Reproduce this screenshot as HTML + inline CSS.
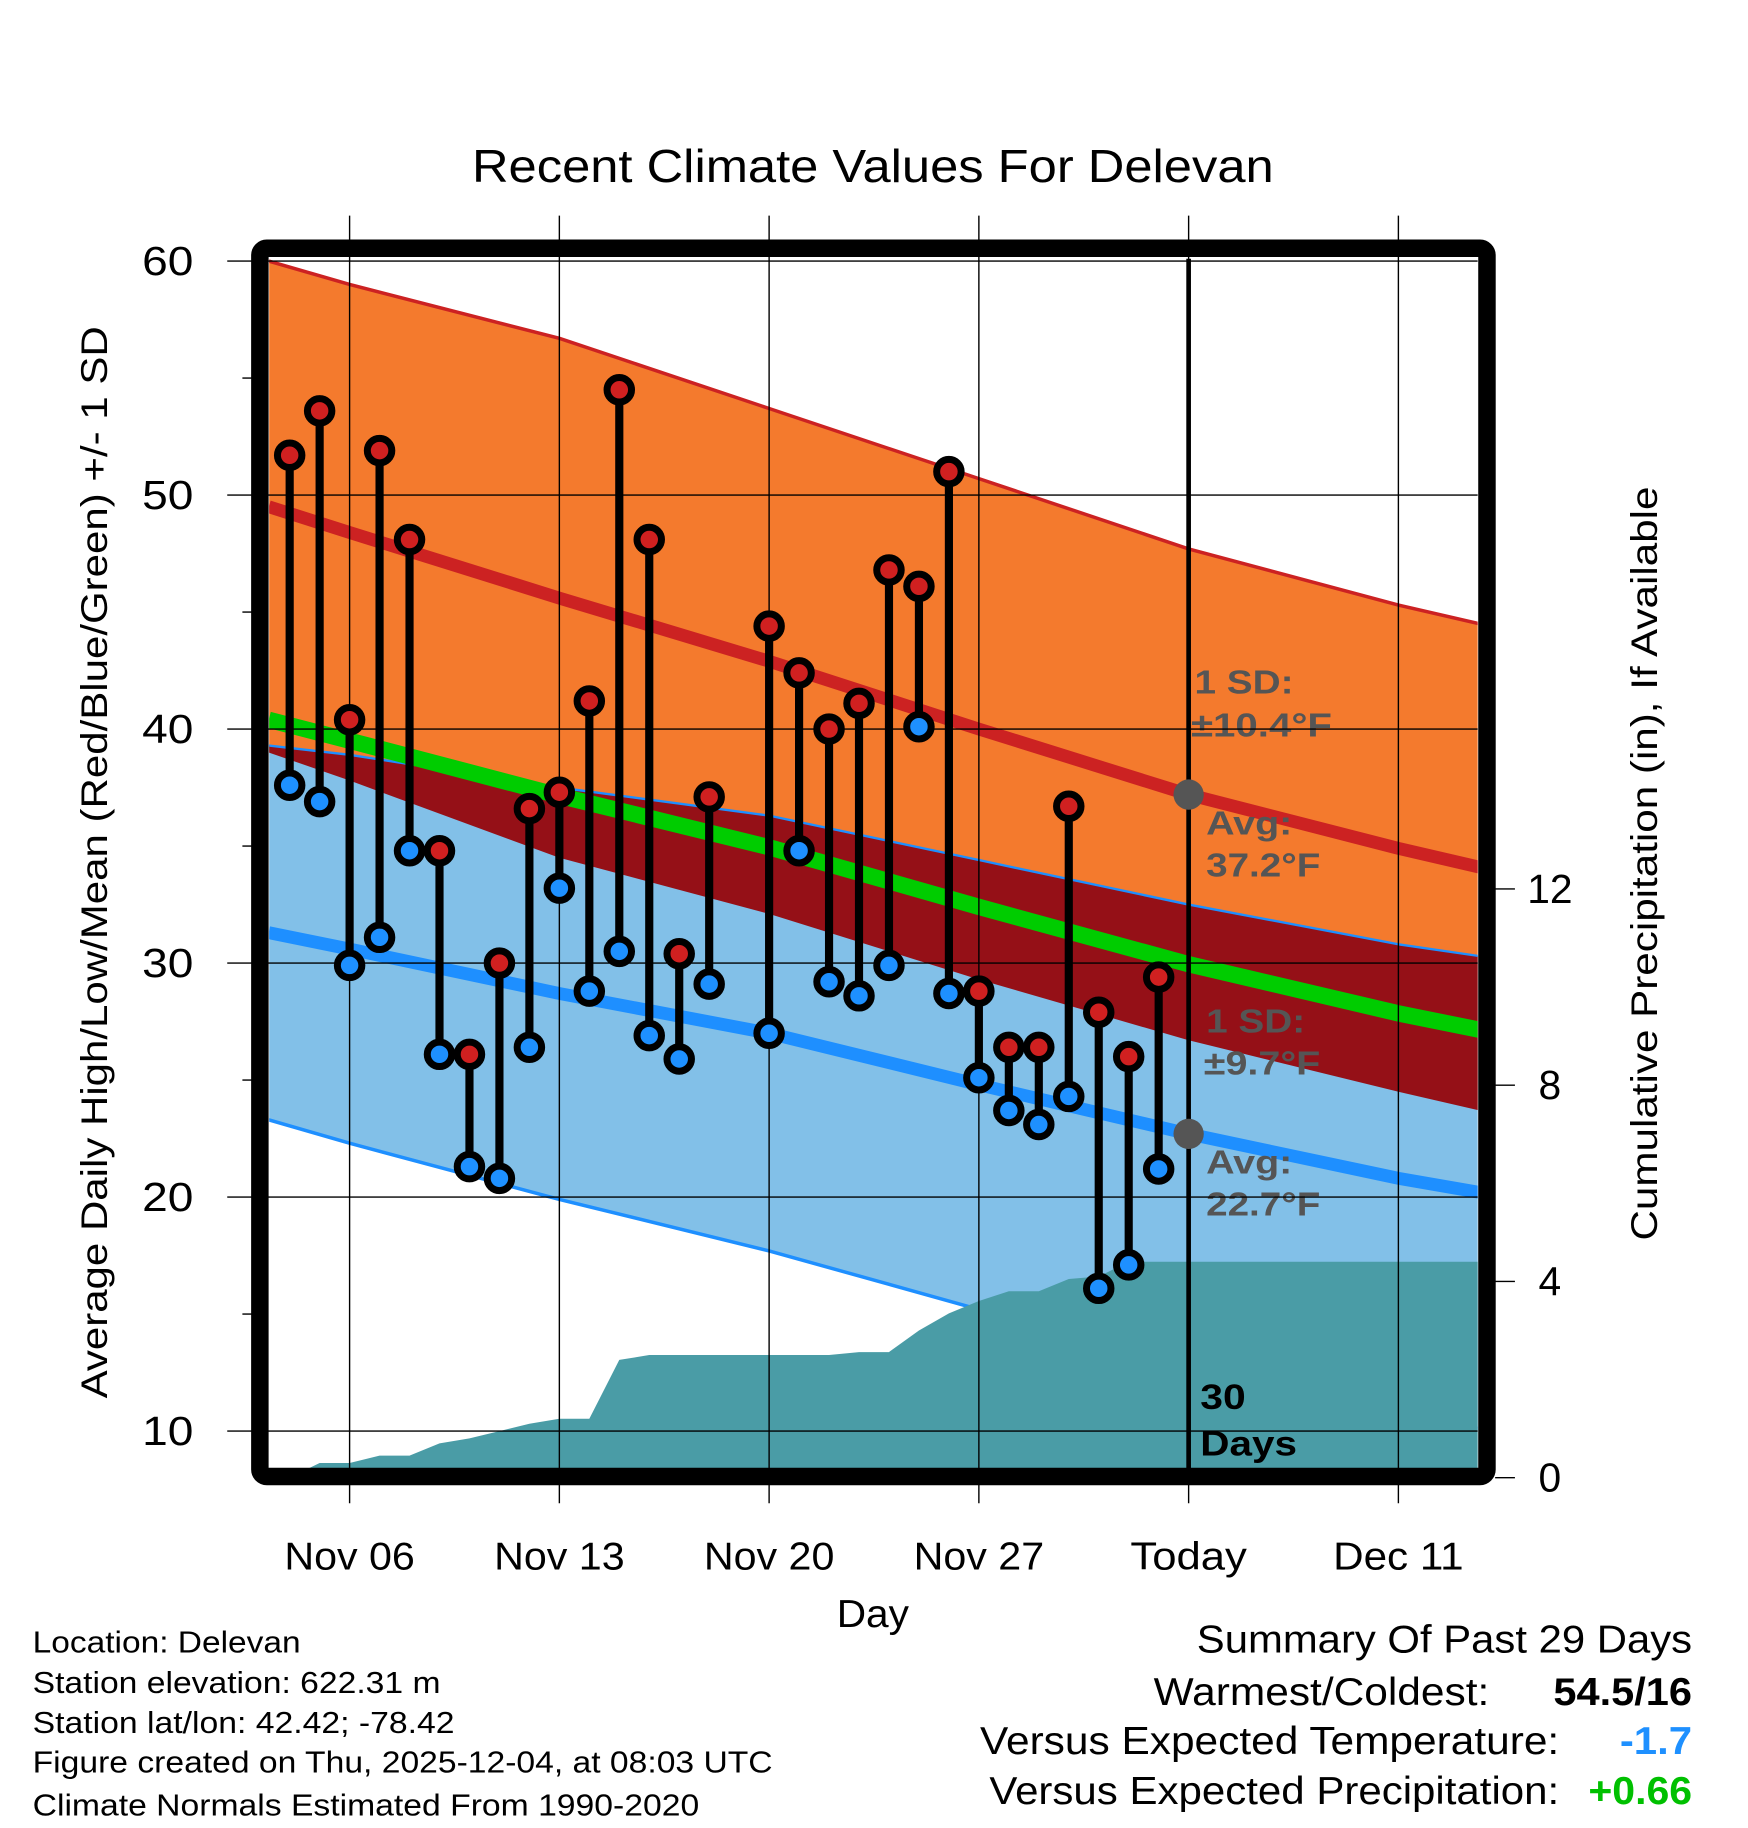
<!DOCTYPE html>
<html><head><meta charset="utf-8"><style>
html,body{margin:0;padding:0;background:#fff}
svg{display:block;font-family:"Liberation Sans",Arial,sans-serif}
</style></head><body>
<svg id="chart" width="1748" height="1828" viewBox="0 0 1500 1568.6" xmlns="http://www.w3.org/2000/svg">
<defs><clipPath id="plotclip"><rect x="231" y="222" width="1037" height="1038"/></clipPath></defs>
<g id="bands" clip-path="url(#plotclip)"></g>
<g id="lines" clip-path="url(#plotclip)"></g>
<g id="precip" clip-path="url(#plotclip)"></g>
<g font-weight="bold" font-size="29" fill="#555" lengthAdjust="spacingAndGlyphs">
<text x="1025" y="595" textLength="85" lengthAdjust="spacingAndGlyphs">1 SD:</text><text x="1022" y="632" textLength="121" lengthAdjust="spacingAndGlyphs">±10.4°F</text>
<text x="1035" y="716" textLength="74" lengthAdjust="spacingAndGlyphs">Avg:</text><text x="1035" y="752" textLength="98" lengthAdjust="spacingAndGlyphs">37.2°F</text>
<text x="1035" y="886" textLength="85" lengthAdjust="spacingAndGlyphs">1 SD:</text><text x="1033" y="922" textLength="100" lengthAdjust="spacingAndGlyphs">±9.7°F</text>
<text x="1035" y="1007" textLength="74" lengthAdjust="spacingAndGlyphs">Avg:</text><text x="1035" y="1043" textLength="98" lengthAdjust="spacingAndGlyphs">22.7°F</text>
</g>
<text x="1030" y="1209" font-weight="bold" font-size="30" fill="#000" textLength="39" lengthAdjust="spacingAndGlyphs">30</text>
<text x="1030" y="1249" font-weight="bold" font-size="30" fill="#000" textLength="83" lengthAdjust="spacingAndGlyphs">Days</text>
<g id="grid"></g>
<g id="marks"></g>
<rect x="223" y="213" width="1053" height="1054" rx="6" fill="none" stroke="#000" stroke-width="15"/>
<g id="axes"></g>
<text x="405" y="156" font-size="40" textLength="688" lengthAdjust="spacingAndGlyphs">Recent Climate Values For Delevan</text>
<text transform="translate(92,740) rotate(-90)" text-anchor="middle" font-size="32" textLength="920" lengthAdjust="spacingAndGlyphs">Average Daily High/Low/Mean (Red/Blue/Green) +/- 1 SD</text>
<text transform="translate(1422,741) rotate(-90)" text-anchor="middle" font-size="32" textLength="647" lengthAdjust="spacingAndGlyphs">Cumulative Precipitation (in), If Available</text>
<text x="718" y="1396" font-size="33" textLength="62" lengthAdjust="spacingAndGlyphs">Day</text>
<g font-size="26">
<text x="28" y="1418" textLength="230" lengthAdjust="spacingAndGlyphs">Location: Delevan</text>
<text x="28" y="1453" textLength="350" lengthAdjust="spacingAndGlyphs">Station elevation: 622.31 m</text>
<text x="28" y="1487" textLength="362" lengthAdjust="spacingAndGlyphs">Station lat/lon: 42.42; -78.42</text>
<text x="28" y="1521" textLength="635" lengthAdjust="spacingAndGlyphs">Figure created on Thu, 2025-12-04, at 08:03 UTC</text>
<text x="28" y="1558" textLength="572" lengthAdjust="spacingAndGlyphs">Climate Normals Estimated From 1990-2020</text>
</g>
<g font-size="33">
<text x="1027" y="1418" textLength="425" lengthAdjust="spacingAndGlyphs">Summary Of Past 29 Days</text>
<text x="990" y="1463" textLength="288" lengthAdjust="spacingAndGlyphs">Warmest/Coldest:</text>
<text x="1333" y="1463" font-weight="bold" textLength="119" lengthAdjust="spacingAndGlyphs">54.5/16</text>
<text x="841" y="1505" textLength="497" lengthAdjust="spacingAndGlyphs">Versus Expected Temperature:</text>
<text x="1390" y="1505" font-weight="bold" fill="#1e90ff" textLength="62" lengthAdjust="spacingAndGlyphs">-1.7</text>
<text x="849" y="1548" textLength="489" lengthAdjust="spacingAndGlyphs">Versus Expected Precipitation:</text>
<text x="1363" y="1548" font-weight="bold" fill="#00c000" textLength="89" lengthAdjust="spacingAndGlyphs">+0.66</text>
</g>
</svg>
<script>
// day offsets relative to Nov 06
const normDays = [-2.7, 0, 7, 14, 21, 28, 35, 37.7];
const avgHigh = [49.5, 48.4, 45.6, 42.9, 40.0, 37.2, 34.9, 34.1];
const sdHigh = [10.5, 10.6, 11.1, 10.8, 10.7, 10.5, 10.4, 10.4];
const avgLow = [31.3, 30.6, 28.7, 27.0, 24.8, 22.7, 20.8, 20.2];
const sdLow = [8.0, 8.3, 8.8, 9.3, 9.6, 9.8, 10.0, 10.1];
const obsDays = [-2,-1,0,1,2,3,4,5,6,7,8,9,10,11,12,14,15,16,17,18,19,20,21,22,23,24,25,26,27];
const highs = [51.7,53.6,40.4,51.9,48.1,34.8,26.1,30.0,36.6,37.3,41.2,54.5,48.1,30.4,37.1,44.4,42.4,40.0,41.1,46.8,46.1,51.0,28.8,26.4,26.4,36.7,27.9,26.0,29.4];
const lows = [37.6,36.9,29.9,31.1,34.8,26.1,21.3,20.8,26.4,33.2,28.8,30.5,26.9,25.9,29.1,27.0,34.8,29.2,28.6,29.9,40.1,28.7,25.1,23.7,23.1,24.3,16.1,17.1,21.2];
const precipDays = [-2,-1,0,1,2,3,4,5,6,7,8,9,10,11,12,13,14,15,16,17,18,19,20,21,22,23,24,25,26,27];
const precipCum = [0,0.3,0.3,0.45,0.45,0.7,0.8,0.95,1.1,1.2,1.2,2.4,2.5,2.5,2.5,2.5,2.5,2.5,2.5,2.56,2.56,3.0,3.35,3.6,3.8,3.8,4.05,4.1,4.4,4.4];
const xTickDays = [0,7,14,21,28,35];
const xTickLabels = ["Nov 06","Nov 13","Nov 20","Nov 27","Today","Dec 11"];
const yTicks = [10,20,30,40,50,60];
const y2Ticks = [0,4,8,12];
const todayDay = 28;

const NS="http://www.w3.org/2000/svg";
const X = d => 300 + d*25.714;
const Y = v => 224 + (60 - v)*20.08;
const Y2 = p => 1268 - p*42.1;
function mk(tag, attrs, parent){const e=document.createElementNS(NS,tag);for(const k in attrs)e.setAttribute(k,attrs[k]);parent.appendChild(e);return e;}
const g = id => document.getElementById(id);
const pts = arr => normDays.map((d,i)=>X(d).toFixed(1)+","+Y(arr[i]).toFixed(1));
const hiUp = avgHigh.map((v,i)=>v+sdHigh[i]), hiDn = avgHigh.map((v,i)=>v-sdHigh[i]);
const loUp = avgLow.map((v,i)=>v+sdLow[i]), loDn = avgLow.map((v,i)=>v-sdLow[i]);
const mean = avgHigh.map((v,i)=>(v+avgLow[i])/2);

let e;
e = mk('polygon',{points:pts(hiUp).concat(pts(hiDn).reverse()).join(' '),fill:'#f47a2d'},g('bands'));


e = mk('polygon',{points:pts(loUp).concat(pts(loDn).reverse()).join(' '),fill:'#82c0e8'},g('bands'));


const ovTop = loUp.map((v,i)=>Math.min(v,hiUp[i])), ovBot = hiDn.map((v,i)=>Math.max(v,loDn[i]));
const ovPts = normDays.map((d,i)=>X(d)+","+Y(Math.max(ovTop[i],ovBot[i]))).concat(normDays.map((d,i)=>X(d)+","+Y(ovBot[i])).reverse());
e = mk('polygon',{points:ovPts.join(' '),fill:'#951017'},g('bands'));



// precip
let pp = precipDays.map((d,i)=>X(d)+","+Y2(precipCum[i]));
pp.push(X(40)+","+Y2(precipCum[precipCum.length-1]));
pp.push(X(40)+","+Y2(0)); pp.push(X(precipDays[0])+","+Y2(0));
e = mk('polygon',{points:pp.join(' '),fill:'#4a9ca6'},g('precip'));



function line(arr,color,w,name){const l=mk('polyline',{points:pts(arr).join(' '),fill:'none',stroke:color,'stroke-width':w},g('lines'));}
line(hiUp,'#cc2222',3,'high-plus-sd-line');
line(loUp,'#1e8fff',2,'low-plus-sd-line');
line(loDn,'#1e8fff',3,'low-minus-sd-line');
line(mean,'#00cc00',14,'mean-line');
line(avgHigh,'#cc2222',11,'avg-high-line');
line(avgLow,'#1e8fff',11,'avg-low-line');

// grid
xTickDays.forEach(d=>{const l=mk('line',{x1:X(d),x2:X(d),y1:185,y2:1290,stroke:'#000','stroke-width':1.2},g('grid'));});
yTicks.forEach(v=>{const l=mk('line',{x1:195,x2:1268,y1:Y(v),y2:Y(v),stroke:'#000','stroke-width':1.2},g('grid'));});
for(let v=15;v<60;v+=10){const l=mk('line',{x1:208,x2:216,y1:Y(v),y2:Y(v),stroke:'#000','stroke-width':1.2},g('grid'));}
e = mk('line',{x1:X(todayDay),x2:X(todayDay),y1:222,y2:1260,stroke:'#000','stroke-width':4},g('grid'));


[avgHigh,avgLow].forEach((arr,k)=>{const c=mk('circle',{cx:X(todayDay),cy:Y(arr[5]),r:13,fill:'#555'},g('grid'));});

// marks
obsDays.forEach((d,i)=>{
  const s=mk('line',{x1:X(d),x2:X(d),y1:Y(highs[i]),y2:Y(lows[i]),stroke:'#000','stroke-width':7},g('marks'));
  
  
  const h=mk('circle',{cx:X(d),cy:Y(highs[i]),r:10.5,fill:'#d02020',stroke:'#000','stroke-width':6},g('marks'));
  
  
  const lo=mk('circle',{cx:X(d),cy:Y(lows[i]),r:10.5,fill:'#1e90ff',stroke:'#000','stroke-width':6},g('marks'));
  
  
});

// axes labels
yTicks.forEach(v=>{const t=mk('text',{x:166,y:Y(v)+12,'text-anchor':'end','font-size':35,textLength:44,lengthAdjust:'spacingAndGlyphs'},g('axes'));t.textContent=v;});
y2Ticks.forEach(p=>{const l=mk('line',{x1:1283,x2:1300,y1:Y2(p),y2:Y2(p),stroke:'#000','stroke-width':1.2},g('axes'));
  const t=mk('text',{x:1330,y:Y2(p)+12,'text-anchor':'middle','font-size':35},g('axes'));t.textContent=p;});
xTickDays.forEach((d,i)=>{const t=mk('text',{x:X(d),y:1347,'text-anchor':'middle','font-size':33,textLength:(xTickLabels[i]==="Today"?100:112),lengthAdjust:'spacingAndGlyphs'},g('axes'));t.textContent=xTickLabels[i];});
</script>
</body></html>
